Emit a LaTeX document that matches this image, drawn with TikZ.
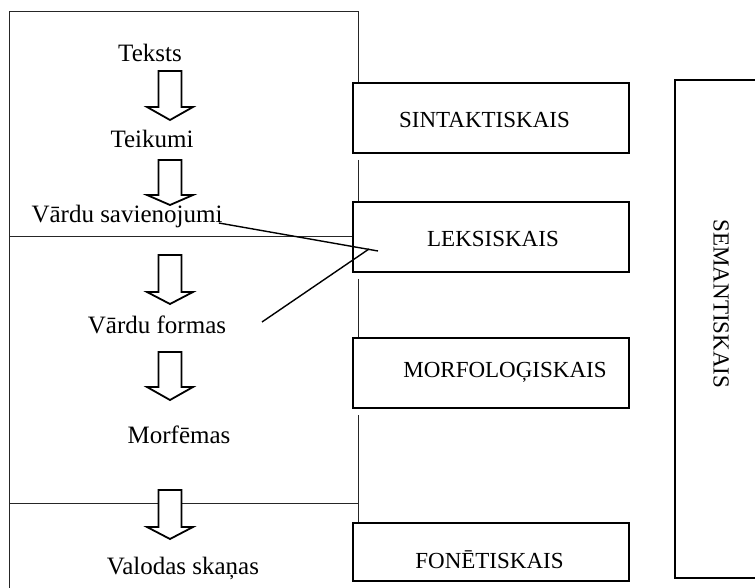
\documentclass[tikz,border=0pt]{standalone}
\usepackage{fontspec}
\setmainfont{Liberation Serif}
\tikzset{
  frameline/.style={line width=0.5pt, draw=black!85},
  levelbox/.style={draw, line width=0.8pt, fill=white},
  blockarrow/.style={draw, line width=0.9pt, fill=white, line join=miter},
  leader/.style={line width=0.7pt},
  unittext/.style={font=\fontsize{12.5}{15}\selectfont, inner sep=0pt, anchor=base},
  leveltext/.style={font=\fontsize{11.5}{14}\selectfont, inner sep=0pt, anchor=base},
}
% hollow downward block arrow: centre x, top, shoulder, tip
\newcommand\blockdown[4]{%
  \path[blockarrow] (#1-11.5,#2) -- (#1+11.5,#2) -- (#1+11.5,#3) -- (#1+23,#3)
    -- (#1,#4) -- (#1-23,#3) -- (#1-11.5,#3) -- cycle;}
\begin{document}
\begin{tikzpicture}[x=0.5pt, y=-0.5pt]
\useasboundingbox (0,0) rectangle (755,588);

% outer frame of the language units
\draw[frameline] (9,588) -- (9,12) -- (358,12) -- (358,86);
\draw[frameline] (358,160) -- (358,206);
\draw[frameline] (358,279) -- (358,341);
\draw[frameline] (358,415) -- (358,527);
\draw[frameline] (9,237) -- (353,237);
\draw[frameline] (9,503) -- (358,503);

% level boxes
\node (sint) [levelbox, minimum width=138pt, minimum height=35pt] at (491,118) {};
\node (leks) [levelbox, minimum width=138pt, minimum height=35pt] at (491,237) {};
\node (morf) [levelbox, minimum width=138pt, minimum height=35pt] at (491,373) {};
\node (fon)  [levelbox, minimum width=138pt, minimum height=29pt] at (491,552) {};
\node (sem)  [levelbox, minimum width=50pt, minimum height=249pt] at (725,329) {};

\node (sinttext) [leveltext] at (484.5,128) {SINTAKTISKAIS};
\node (lekstext) [leveltext] at (493,247) {LEKSISKAIS};
\node (morftext) [leveltext] at (505,378) {MORFOLOĢISKAIS};
\node (fontext)  [leveltext] at (489.5,568) {FONĒTISKAIS};
\node (semtext)  [font=\fontsize{11.5}{14}\selectfont, inner sep=0pt, rotate=-90] at (721,304) {SEMANTISKAIS};

% language units
\node (teksts)   [unittext] at (150,62)  {Teksts};
\node (teikumi)  [unittext] at (152,148) {Teikumi};
\node (savien)   [unittext] at (127,223) {Vārdu savienojumi};
\node (formas)   [unittext] at (157,334) {Vārdu formas};
\node (morfemas) [unittext] at (179,443) {Morfēmas};
\node (skanas)   [unittext] at (183,574) {Valodas skaņas};

% arrows between the units
\blockdown{170}{71}{107}{120}
\blockdown{170}{160}{195}{205}
\blockdown{170}{255}{292}{304}
\blockdown{170}{352}{387}{400}
\blockdown{170}{490}{527}{539}

% leaders to the lexical level
\coordinate (savienend) at (savien.base east);
\coordinate (formasend) at (262,322);
\coordinate (leksA) at (378,251);
\coordinate (leksB) at (369,249);
\draw[leader] ([xshift=-2pt]savienend) -- (leksA);
\draw[leader] (formasend) -- (leksB);
\end{tikzpicture}
\end{document}
